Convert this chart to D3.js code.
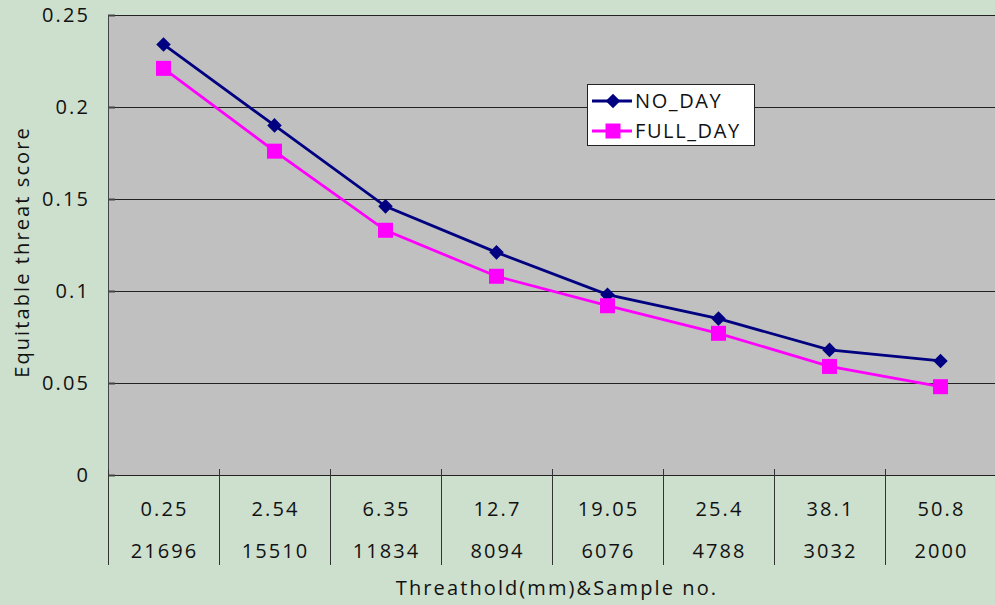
<!DOCTYPE html>
<meta charset="utf-8">
<style>
body { margin: 0; background: #cddfcd; }
svg { display: block; }
.lbl { font: 20px "Open Sans", "Noto Sans", sans-serif; letter-spacing: 2.1px; fill: #111; }
</style>
<svg width="995" height="605"></svg>
<script src="https://d3js.org/d3.v7.min.js"></script>
<script>

var thresholds = ["0.25", "2.54", "6.35", "12.7", "19.05", "25.4", "38.1", "50.8"];
var samples = ["21696", "15510", "11834", "8094", "6076", "4788", "3032", "2000"];
var noDay = [0.234, 0.190, 0.146, 0.121, 0.098, 0.085, 0.068, 0.062];
var fullDay = [0.221, 0.176, 0.133, 0.108, 0.092, 0.077, 0.059, 0.048];
var yTicks = [0, 0.05, 0.1, 0.15, 0.2, 0.25];

var svg = d3.select("svg"),
    plotLeft = 108, plotRight = 996, plotTop = 15, plotBottom = 475;

svg.append("rect").attr("width", 995).attr("height", 605).attr("fill", "#cddfcd");

var x = d3.scaleBand().domain(d3.range(thresholds.length)).range([plotLeft, plotRight]);
var y = d3.scaleLinear().domain([0, 0.25]).range([plotBottom, plotTop]);

svg.append("rect")
    .attr("x", plotLeft).attr("y", plotTop)
    .attr("width", plotRight - plotLeft).attr("height", plotBottom - plotTop)
    .attr("fill", "#c0c0c0");

// gridlines
svg.selectAll(".grid").data(yTicks).enter().append("line")
    .attr("x1", plotLeft).attr("x2", plotRight)
    .attr("y1", function(d) { return Math.round(y(d)) + 0.5; })
    .attr("y2", function(d) { return Math.round(y(d)) + 0.5; })
    .attr("stroke", "#222").attr("stroke-width", 1);

// y axis line
svg.append("line")
    .attr("x1", plotLeft + 0.5).attr("x2", plotLeft + 0.5)
    .attr("y1", plotTop).attr("y2", plotBottom)
    .attr("stroke", "#444");

svg.selectAll(".ytick").data(yTicks).enter().append("line")
    .attr("x1", plotLeft).attr("x2", plotLeft + 7)
    .attr("y1", function(d) { return Math.round(y(d)) + 0.5; })
    .attr("y2", function(d) { return Math.round(y(d)) + 0.5; })
    .attr("stroke", "#444").attr("stroke-width", 2);

svg.selectAll(".ylab").data(yTicks).enter().append("text")
    .attr("class", "lbl")
    .attr("x", 90).attr("y", function(d) { return y(d) + 7; })
    .attr("text-anchor", "end")
    .text(function(d) { return d; });

// category separators
var seps = d3.range(thresholds.length + 1);
svg.selectAll(".sep").data(seps).enter().append("line")
    .attr("x1", function(d) { return Math.round(plotLeft + d * x.step()) + 0.5; })
    .attr("x2", function(d) { return Math.round(plotLeft + d * x.step()) + 0.5; })
    .attr("y1", plotBottom - 6).attr("y2", 565)
    .attr("stroke", "#333");

svg.selectAll(".xlab1").data(thresholds).enter().append("text")
    .attr("class", "lbl")
    .attr("x", function(d, i) { return x(i) + x.bandwidth() / 2 + 1; })
    .attr("y", 516).attr("text-anchor", "middle")
    .text(function(d) { return d; });

svg.selectAll(".xlab2").data(samples).enter().append("text")
    .attr("class", "lbl")
    .attr("x", function(d, i) { return x(i) + x.bandwidth() / 2 + 1; })
    .attr("y", 558).attr("text-anchor", "middle")
    .text(function(d) { return d; });

svg.append("text").attr("class", "lbl")
    .attr("x", 557).attr("y", 595).attr("text-anchor", "middle")
    .text("Threathold(mm)&Sample no.");

svg.append("text").attr("class", "lbl")
    .attr("transform", "translate(29,252) rotate(-90)")
    .attr("text-anchor", "middle")
    .text("Equitable threat score");

var line = d3.line()
    .x(function(d, i) { return x(i) + x.bandwidth() / 2; })
    .y(function(d) { return y(d); });

var series = [
  { name: "NO_DAY", values: noDay, color: "#000080", shape: "diamond" },
  { name: "FULL_DAY", values: fullDay, color: "#ff00ff", shape: "square" }
];

var sym = {
  diamond: d3.symbol().type(d3.symbolDiamond2).size(135),
  square: d3.symbol().type(d3.symbolSquare).size(225)
};

series.forEach(function(s) {
  svg.append("path").datum(s.values)
      .attr("d", line)
      .attr("fill", "none").attr("stroke", s.color).attr("stroke-width", 2.8);
  svg.selectAll(".m-" + s.shape).data(s.values).enter().append("path")
      .attr("d", sym[s.shape])
      .attr("transform", function(d, i) { return "translate(" + (x(i) + x.bandwidth() / 2) + "," + y(d) + ")"; })
      .attr("fill", s.color);
});

// legend
var lg = svg.append("g").attr("transform", "translate(587,84)");
lg.append("rect").attr("x", 0.5).attr("y", 0.5).attr("width", 167).attr("height", 61)
    .attr("fill", "#fff").attr("stroke", "#222");
series.forEach(function(s, i) {
  var cy = 17 + i * 30;
  lg.append("line").attr("x1", 5).attr("x2", 45).attr("y1", cy).attr("y2", cy)
      .attr("stroke", s.color).attr("stroke-width", 2.8);
  lg.append("path").attr("d", sym[s.shape]).attr("transform", "translate(26," + cy + ")")
      .attr("fill", s.color);
  lg.append("text").attr("class", "lbl").attr("x", 48).attr("y", cy + 7)
      .style("font-size", "20px").style("letter-spacing", "1.6px")
      .text(s.name);
});

</script>
